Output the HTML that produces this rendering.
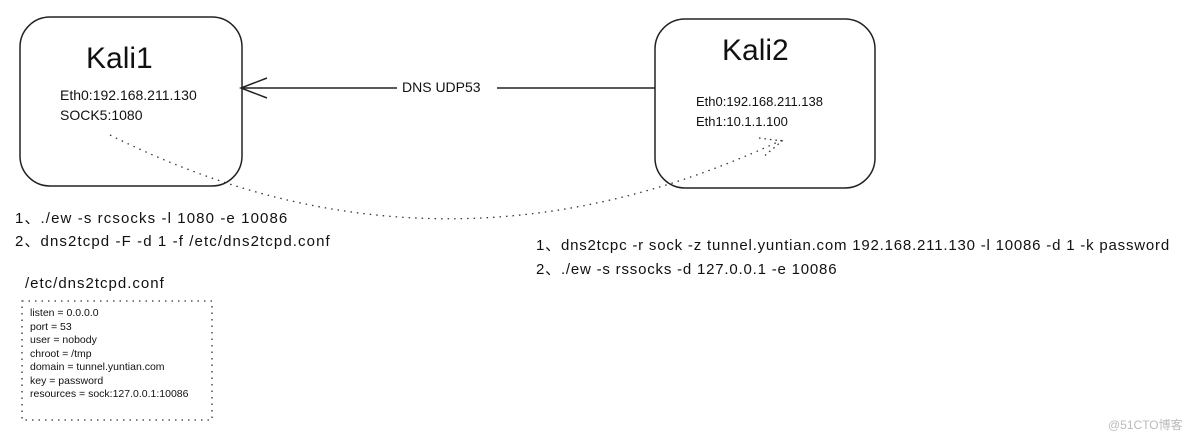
<!DOCTYPE html>
<html><head><meta charset="utf-8"><style>
body{margin:0;width:1184px;height:442px;background:#fff;overflow:hidden;font-family:"Liberation Sans",sans-serif;color:#111}
.t{position:absolute;white-space:nowrap}
</style></head><body>
<svg width="1184" height="442" style="position:absolute;left:0;top:0">
<rect x="20" y="17" width="222" height="169" rx="30" fill="none" stroke="#222" stroke-width="1.5"/>
<rect x="655" y="19" width="220" height="169" rx="30" fill="none" stroke="#222" stroke-width="1.5"/>
<line x1="241" y1="88" x2="397" y2="88" stroke="#222" stroke-width="1.5"/>
<line x1="497" y1="88" x2="655" y2="88" stroke="#222" stroke-width="1.5"/>
<path d="M267,78 L241,88 L267,98" fill="none" stroke="#222" stroke-width="1.5"/>
<path d="M110,135 Q440,300 782,140" fill="none" stroke="#333" stroke-width="1.3" stroke-dasharray="1.5,5"/>
<path d="M759,138 L782,141 L762,158" fill="none" stroke="#333" stroke-width="1.3" stroke-dasharray="1.5,4"/>
<rect x="22" y="301" width="190" height="119" fill="none" stroke="#333" stroke-width="1.3" stroke-dasharray="1.5,5"/>
</svg>
<div class="t" style="left:86px;top:42px;font-size:30px">Kali1</div>
<div class="t" style="left:60px;top:85px;font-size:14px;line-height:20px">Eth0:192.168.211.130<br>SOCK5:1080</div>
<div class="t" style="left:722px;top:34px;font-size:30px">Kali2</div>
<div class="t" style="left:696px;top:92px;font-size:13px;line-height:20px">Eth0:192.168.211.138<br>Eth1:10.1.1.100</div>
<div class="t" style="left:402px;top:79px;font-size:14px">DNS UDP53</div>
<div class="t" style="left:15px;top:207px;font-size:15px;line-height:23px;letter-spacing:1.1px">1、./ew -s rcsocks -l 1080 -e 10086<br>2、dns2tcpd -F -d 1 -f /etc/dns2tcpd.conf</div>
<div class="t" style="left:536px;top:234px;font-size:15px;line-height:24px;letter-spacing:0.8px">1、dns2tcpc -r sock -z tunnel.yuntian.com 192.168.211.130 -l 10086 -d 1 -k password<br>2、./ew -s rssocks -d 127.0.0.1 -e 10086</div>
<div class="t" style="left:25px;top:275px;font-size:15px;letter-spacing:1px">/etc/dns2tcpd.conf</div>
<div class="t" style="left:30px;top:307px;font-size:10.5px;line-height:13.5px">listen = 0.0.0.0<br>port = 53<br>user = nobody<br>chroot = /tmp<br>domain = tunnel.yuntian.com<br>key = password<br>resources = sock:127.0.0.1:10086</div>
<div class="t" style="left:1108px;top:416px;font-size:12px;color:#bbb">@51CTO博客</div>
</body></html>
